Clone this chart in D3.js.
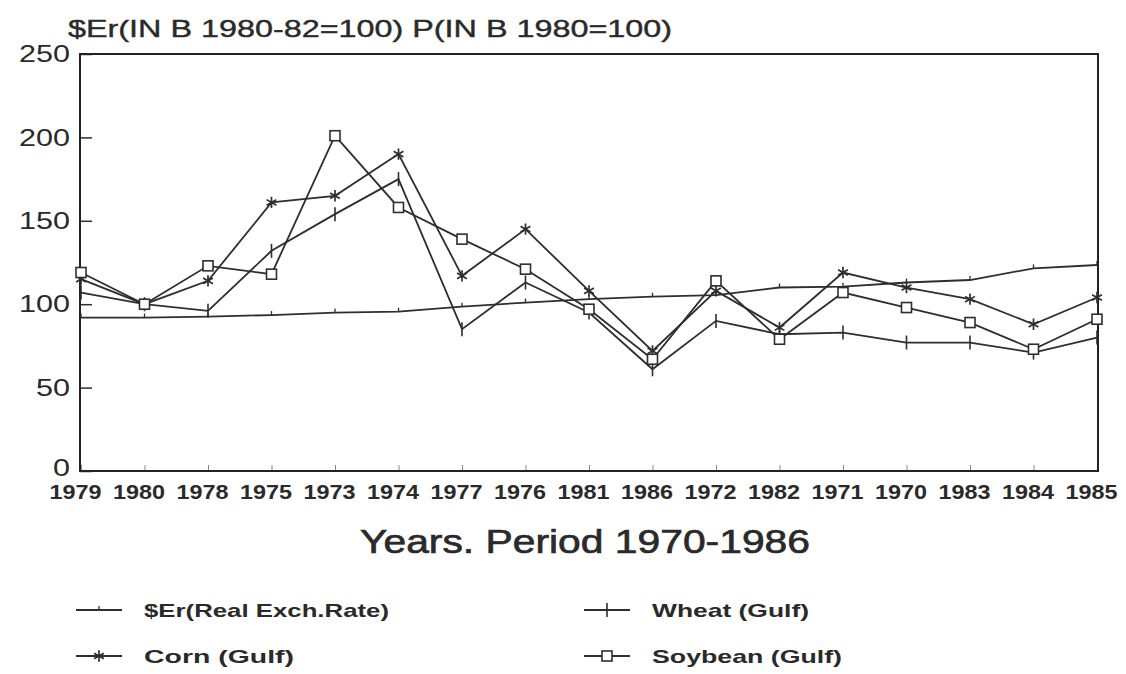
<!DOCTYPE html>
<html>
<head>
<meta charset="utf-8">
<script src="https://cdn.jsdelivr.net/npm/d3@7"></script>
<style>
    body { margin: 0; background: #fff; }
    #chart { width: 1126px; height: 674px; }
    text { font-family: "Liberation Sans", Arial, sans-serif; fill: #2a2a2a; }
</style>
</head>
<body>
<div id="chart"></div>
<script>
///// DATOS //////
// Años ordenados como en el eje original (no cronológico)
let years = ['1979','1980','1978','1975','1973','1974','1977','1976','1981','1986','1972','1982','1971','1970','1983','1984','1985'];
let exchRate = [92, 92, 92.5, 93.5, 95, 95.5, 98.5, 101, 103, 104.5, 105.5, 110, 110.5, 113, 114.5, 121.5, 123.5];
let wheat = [107, 100, 96, 132, 154, 175, 85, 113, 95, 61, 90, 82, 83, 77, 77, 71, 80];
let corn = [115, 100, 114, 161, 165, 190, 117, 145, 108, 72, 108, 86, 119, 110, 103, 88, 104];
let soybean = [119, 100, 123, 118, 201, 158, 139, 121, 97, 67, 114, 79, 107, 98, 89, 73, 91];
let yTicks = [0, 50, 100, 150, 200, 250];
let seriesNames = ['$Er(Real Exch.Rate)', 'Wheat (Gulf)', 'Corn (Gulf)', 'Soybean (Gulf)'];

let ink = '#2e2e2e';
let svg, x_c, y_c, line;
let plotL = 80, plotR = 1098, plotT = 54, plotB = 471;

initChart();

function initChart() {
    svg = d3.select('#chart').append('svg')
        .attr('width', 1126)
        .attr('height', 674);

    x_c = d3.scalePoint()
        .domain(years)
        .range([plotL + 1, plotR - 1]);

    y_c = d3.scaleLinear()
        .domain([0, 250])
        .range([plotB, plotT]);

    //Título
    svg.append('text')
        .attr('x', 68)
        .attr('y', 37)
        .attr('font-size', 24)
        .attr('stroke', '#2a2a2a')
        .attr('stroke-width', 0.4)
        .attr('textLength', 604)
        .attr('lengthAdjust', 'spacingAndGlyphs')
        .text('$Er(IN B 1980-82=100) P(IN B 1980=100)');

    //Eje Y
    let yAxis = svg.append('g')
        .attr('transform', 'translate(' + plotL + ',0)')
        .call(d3.axisLeft(y_c).tickValues(yTicks).tickSize(-12).tickSizeOuter(0).tickPadding(10));
    yAxis.select('.domain').remove();
    yAxis.selectAll('line').attr('stroke', ink).attr('stroke-width', 1.5);
    yAxis.selectAll('text')
        .attr('font-size', 24)
        .attr('fill', '#2a2a2a')
        .attr('dy', function(d) { return d == 0 ? '0.2em' : '0.32em'; })
        .attr('textLength', function(d) { return String(d).length * 17; })
        .attr('lengthAdjust', 'spacingAndGlyphs');

    //Eje X
    let xAxis = svg.append('g')
        .attr('transform', 'translate(0,' + plotB + ')')
        .call(d3.axisBottom(x_c).tickSize(-6).tickSizeOuter(0).tickPadding(14));
    xAxis.select('.domain').remove();
    xAxis.selectAll('line').attr('stroke', '#888').attr('stroke-width', 1);
    xAxis.selectAll('text')
        .attr('font-size', 20)
        .attr('font-weight', 'bold')
        .attr('fill', '#2a2a2a')
        .attr('x', -6)
        .attr('textLength', 52)
        .attr('lengthAdjust', 'spacingAndGlyphs');

    //Marco
    svg.append('rect')
        .attr('x', plotL)
        .attr('y', plotT)
        .attr('width', plotR - plotL)
        .attr('height', plotB - plotT)
        .attr('fill', 'none')
        .attr('stroke', '#222')
        .attr('stroke-width', 2);

    //Líneas
    line = d3.line()
        .x(function(d, i) { return x_c(years[i]); })
        .y(function(d) { return y_c(d); });

    let series = [
        {key: 'exch', data: exchRate},
        {key: 'wheat', data: wheat},
        {key: 'corn', data: corn},
        {key: 'soy', data: soybean}
    ];

    svg.selectAll('.line')
        .data(series)
        .enter()
        .append('path')
        .attr('class', 'line')
        .attr('fill', 'none')
        .attr('stroke', ink)
        .attr('stroke-width', 1.8)
        .attr('d', function(d) { return line(d.data); });

    series.forEach(function(s) {
        s.data.forEach(function(v, i) {
            drawMarker(s.key, x_c(years[i]), y_c(v));
        });
    });

    //Título eje X
    svg.append('text')
        .attr('x', 360)
        .attr('y', 553)
        .attr('font-size', 34)
        .attr('stroke', '#2a2a2a')
        .attr('stroke-width', 0.7)
        .attr('textLength', 450)
        .attr('lengthAdjust', 'spacingAndGlyphs')
        .text('Years. Period 1970-1986');

    //Leyenda
    let legend = [
        {key: 'exch', x: 76, y: 610, w: 245},
        {key: 'wheat', x: 584, y: 610, w: 157},
        {key: 'corn', x: 76, y: 656, w: 150},
        {key: 'soy', x: 584, y: 656, w: 190}
    ];
    legend.forEach(function(l, i) {
        svg.append('line')
            .attr('x1', l.x).attr('x2', l.x + 46)
            .attr('y1', l.y).attr('y2', l.y)
            .attr('stroke', ink).attr('stroke-width', 1.8);
        drawMarker(l.key, l.x + 23, l.y);
        svg.append('text')
            .attr('x', l.x + 68)
            .attr('y', l.y + 7)
            .attr('font-size', 19)
            .attr('font-weight', 'bold')
            .attr('textLength', l.w)
            .attr('lengthAdjust', 'spacingAndGlyphs')
            .text(seriesNames[i]);
    });
}

function drawMarker(key, cx, cy) {
    if (key == 'exch') {
        svg.append('line')
            .attr('x1', cx).attr('x2', cx)
            .attr('y1', cy - 4).attr('y2', cy)
            .attr('stroke', ink).attr('stroke-width', 1.3);
    } else if (key == 'wheat') {
        svg.append('line')
            .attr('x1', cx).attr('x2', cx)
            .attr('y1', cy - 7).attr('y2', cy + 7)
            .attr('stroke', ink).attr('stroke-width', 1.6);
    } else if (key == 'corn') {
        svg.append('path')
            .attr('transform', 'translate(' + cx + ',' + cy + ')')
            .attr('d', d3.symbol(d3.symbolAsterisk, 90)())
            .attr('fill', 'none')
            .attr('stroke', ink)
            .attr('stroke-width', 1.7);
    } else {
        svg.append('rect')
            .attr('x', cx - 5).attr('y', cy - 5)
            .attr('width', 10).attr('height', 10)
            .attr('fill', '#fff')
            .attr('stroke', ink)
            .attr('stroke-width', 1.6);
    }
}
</script>
</body>
</html>
